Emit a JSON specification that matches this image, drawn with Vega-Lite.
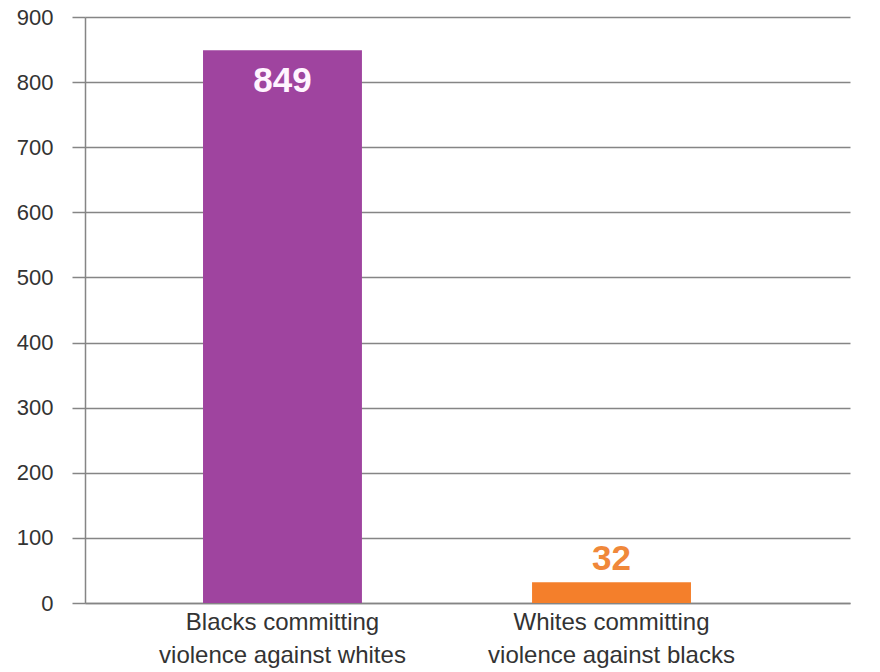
{
  "$schema": "https://vega.github.io/schema/vega-lite/v6.json",
  "width": 765,
  "height": 586,
  "autosize": {"type": "none"},
  "padding": {"left": 85, "top": 17, "right": 30, "bottom": 69},
  "background": "white",
  "config": {"view": {"stroke": null}, "font": "Liberation Sans"},
  "data": {
    "values": [
      {"category": "Blacks committing|violence against whites", "value": 849},
      {"category": "Whites committing|violence against blacks", "value": 32}
    ]
  },
  "encoding": {
    "x": {
      "field": "category",
      "type": "nominal",
      "sort": null,
      "scale": {"paddingInner": 0.517, "paddingOuter": 0.421, "align": 0.426},
      "axis": {
        "title": null,
        "labelAngle": 0,
        "labelExpr": "split(datum.label, '|')",
        "labelFontSize": 24,
        "labelColor": "#333333",
        "labelLineHeight": 33,
        "labelPadding": 7,
        "ticks": false,
        "domainColor": "#858585",
        "domainWidth": 1.5,
        "labelLimit": 400
      }
    },
    "y": {
      "field": "value",
      "type": "quantitative",
      "scale": {"domain": [0, 900], "nice": false},
      "axis": {
        "title": null,
        "values": [0, 100, 200, 300, 400, 500, 600, 700, 800, 900],
        "labelFontSize": 22,
        "labelColor": "#333333",
        "labelPadding": 19,
        "tickSize": 13,
        "tickColor": "#858585",
        "tickWidth": 1.5,
        "gridColor": "#858585",
        "gridWidth": 1.5,
        "domainColor": "#858585",
        "domainWidth": 1.5
      }
    }
  },
  "layer": [
    {
      "mark": {"type": "bar"},
      "encoding": {
        "color": {
          "field": "category",
          "type": "nominal",
          "scale": {"range": ["#9F449F", "#F47F2B"]},
          "legend": null
        }
      }
    },
    {
      "transform": [{"filter": "datum.value > 100"}],
      "mark": {"type": "text", "baseline": "alphabetic", "dy": 42, "fontSize": 35, "fontWeight": "bold", "color": "#FFF4FF"},
      "encoding": {"text": {"field": "value", "type": "quantitative"}}
    },
    {
      "transform": [{"filter": "datum.value <= 100"}],
      "mark": {"type": "text", "baseline": "alphabetic", "dy": -12, "fontSize": 35, "fontWeight": "bold", "color": "#F0883A"},
      "encoding": {"text": {"field": "value", "type": "quantitative"}}
    }
  ]
}
